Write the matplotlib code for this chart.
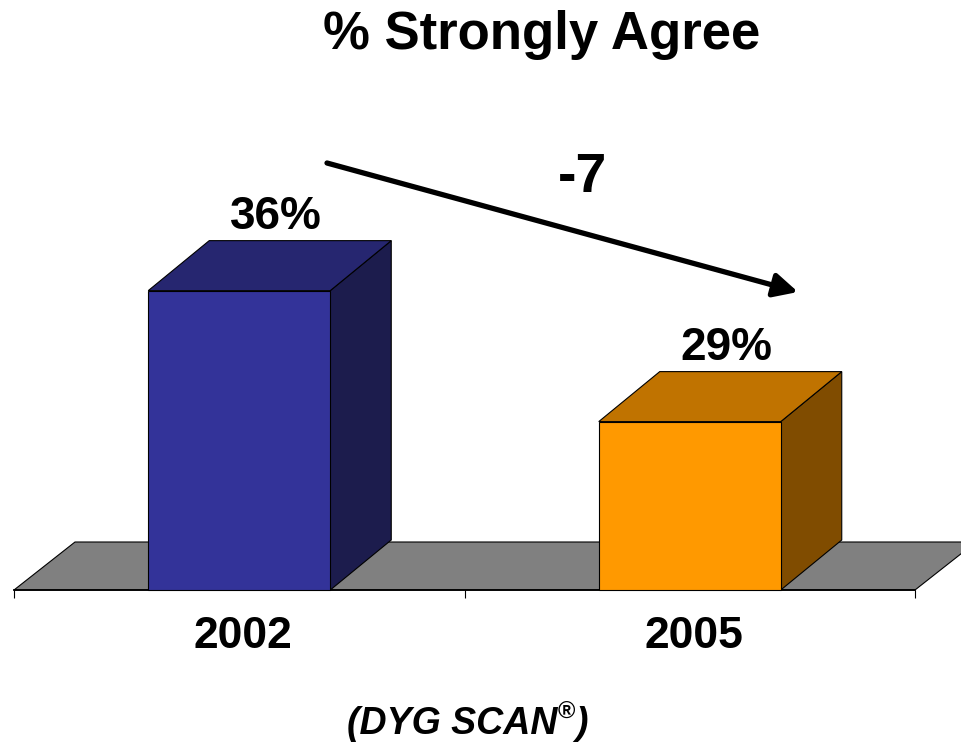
import matplotlib
matplotlib.use("Agg")
import matplotlib.pyplot as plt
from matplotlib.patches import Polygon, Rectangle

plt.rcParams['font.family'] = ['Liberation Sans', 'DejaVu Sans']

# ---- data ----
categories = ["2002", "2005"]
values = [36, 29]
value_labels = ["36%", "29%"]
title = "% Strongly Agree"
footer = "(DYG SCAN"
front_colors = ["#333399", "#FF9900"]
top_colors = ["#262670", "#C07300"]
side_colors = ["#1C1C4D", "#804C00"]

W, H = 961, 742
fig = plt.figure(figsize=(W / 100, H / 100), dpi=100)
ymin, ymax = 20, 40
px_per_val = 18.71
ax = fig.add_axes([14 / W, (H - 590) / H, (915 - 14) / W, (ymax - ymin) * px_per_val / H])
ax.set_xlim(-0.5, 1.5)
ax.set_ylim(ymin, ymax)
for s in ['top', 'right', 'left']:
    ax.spines[s].set_visible(False)
ax.spines['bottom'].set_linewidth(1.3)
ax.set_yticks([])
ax.set_xticks([-0.5, 0.5, 1.5])
ax.set_xticklabels([])
ax.tick_params(axis='x', direction='out', length=6, width=0.8)
ax.patch.set_visible(False)

# depth offsets in data units
px_x = ax.bbox.width / 2.0
px_y = ax.bbox.height / (ymax - ymin)
DX = 61 / px_x
DY = 50 / px_y
DYf = 48 / px_y

# floor
floor = Polygon([(-0.5, ymin), (1.5, ymin), (1.5 + DX, ymin + DYf), (-0.5 + DX, ymin + DYf)],
                closed=True, facecolor="#808080", edgecolor="black", lw=0.8,
                clip_on=False, zorder=1)
ax.add_patch(floor)

bw = 0.404
for i, v in enumerate(values):
    x0, x1 = i - bw / 2, i + bw / 2
    front = Rectangle((x0, ymin), bw, v - ymin, facecolor=front_colors[i],
                      edgecolor="black", lw=0.8, clip_on=False, zorder=3)
    top = Polygon([(x0, v), (x1, v), (x1 + DX, v + DY), (x0 + DX, v + DY)], closed=True,
                  facecolor=top_colors[i], edgecolor="black", lw=0.8, clip_on=False, zorder=3)
    side = Polygon([(x1, ymin), (x1 + DX, ymin + DY), (x1 + DX, v + DY), (x1, v)], closed=True,
                   facecolor=side_colors[i], edgecolor="black", lw=0.8, clip_on=False, zorder=3)
    for p in (side, front, top):
        ax.add_patch(p)
    ax.annotate(value_labels[i], xy=(i, v), xytext=(37, 62), textcoords='offset pixels',
                ha='center', va='baseline', fontsize=33, fontweight='bold',
                annotation_clip=False, zorder=5)
    ax.annotate(categories[i], xy=(i, ymin), xytext=(4, -46), textcoords='offset pixels',
                ha='center', va='center', fontsize=32, fontweight='bold',
                annotation_clip=False)

# trend arrow and difference
diff = values[1] - values[0]
ax.annotate("", xy=(798 / W, 1 - 292 / H), xytext=(327 / W, 1 - 163 / H),
            xycoords='figure fraction', textcoords='figure fraction',
            arrowprops=dict(arrowstyle='-|>', lw=3.8, color='black',
                            mutation_scale=36, shrinkA=0, shrinkB=0),
            annotation_clip=False)
fig.text(583 / W, 1 - 178 / H, f"{diff}", ha='center', va='center',
         fontsize=40, fontweight='bold')

fig.text(542 / W, 1 - 35 / H, title, ha='center', va='center', fontsize=38, fontweight='bold')

t1 = fig.text(347 / W, 1 - 724 / H, footer, ha='left', va='center', fontsize=27,
              fontweight='bold', fontstyle='italic')
reg = ax.annotate("®", xy=(1, 0.5), xycoords=t1, ha='left', va='bottom', fontsize=17,
                  fontweight='bold', annotation_clip=False)
ax.annotate(")", xy=(1, 0), xycoords=(reg, t1), ha='left', va='bottom', fontsize=27,
            fontweight='bold', fontstyle='italic', annotation_clip=False)

fig.savefig("out.png", dpi=100)
